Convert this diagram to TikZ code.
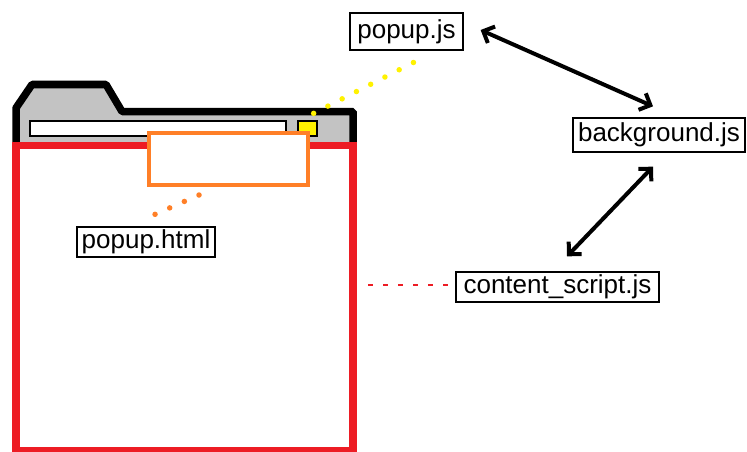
\documentclass[tikz,border=0pt]{standalone}
\usepackage{fontspec}
\setmainfont{Liberation Sans}
\usetikzlibrary{arrows.meta,positioning}
\definecolor{winred}{RGB}{237,28,36}
\definecolor{poporange}{RGB}{255,127,39}
\definecolor{btnyellow}{RGB}{255,242,0}
\definecolor{chrome}{RGB}{195,195,195}

\tikzset{
  filebox/.style={draw, line width=1.3pt, fill=white, inner sep=0pt, font=\fontsize{26}{30}\selectfont},
  msg/.style={{Straight Barb[length=9pt,width=18pt]}-{Straight Barb[length=9pt,width=18pt]}, line width=4pt},
  dots/.style={line width=5.5pt, line cap=round, dash pattern=on 0pt off 16pt},
}

\begin{document}
\begin{tikzpicture}[x=1pt,y=-1pt]
        \useasboundingbox (0,0) rectangle (747,452);
        %Window chrome
        \filldraw[fill=chrome, line width=7.5pt, line join=bevel] (16,145) -- (16,108) -- (32,84.5) -- (106,84.5) -- (122,111.5) -- (353,111.5) -- (353,145);
        \draw[fill=white, line width=1.3pt] (30,121) rectangle (286,136);
        \node[draw, fill=btnyellow, line width=1.3pt, minimum width=19pt, minimum height=15pt, inner sep=0pt] (btn) at (307.5,128.5) {};
        %Page
        \draw[winred, line width=7.5pt] (16,145.5) rectangle (353,451);
        \node[draw=poporange, fill=white, line width=4pt, minimum width=159pt, minimum height=52pt, inner sep=0pt] (popupwin) at (228,158.5) {};
        %Files
        \node[filebox, minimum width=113pt, minimum height=37pt] (popupjs) at (406.5,31.5) {popup.js};
        \node[filebox, minimum width=172pt, minimum height=34pt] (background) at (659,135) {background.js};
        \node[filebox, minimum width=203pt, minimum height=30pt] (content) at (557.5,287) {content\_script.js};
        \node[filebox, minimum width=138pt, minimum height=30pt] (popuphtml) at (146,242) {popup.html};
        \coordinate (pageedge) at (368,285);
        %Links
        \draw[dots, btnyellow] ([xshift=-4pt,yshift=7pt]btn.north east) -- ([xshift=14.5pt,yshift=-8pt]popupjs.south);
        \draw[dots, poporange] ([xshift=-29pt,yshift=-8.5pt]popupwin.south) -- ([xshift=9pt,yshift=12pt]popuphtml.north);
        \draw[draw=winred, line width=1.5pt, dash pattern=on 5pt off 10pt] (pageedge) -- ([xshift=-4pt,yshift=2pt]content.west);
        \draw[msg] ([xshift=17pt,yshift=1.5pt]popupjs.east) -- ([xshift=-6pt,yshift=11pt]background.north);
        \draw[msg] ([xshift=-6pt,yshift=-14pt]background.south) -- ([xshift=9.5pt,yshift=15pt]content.north);
\end{tikzpicture}
\end{document}
